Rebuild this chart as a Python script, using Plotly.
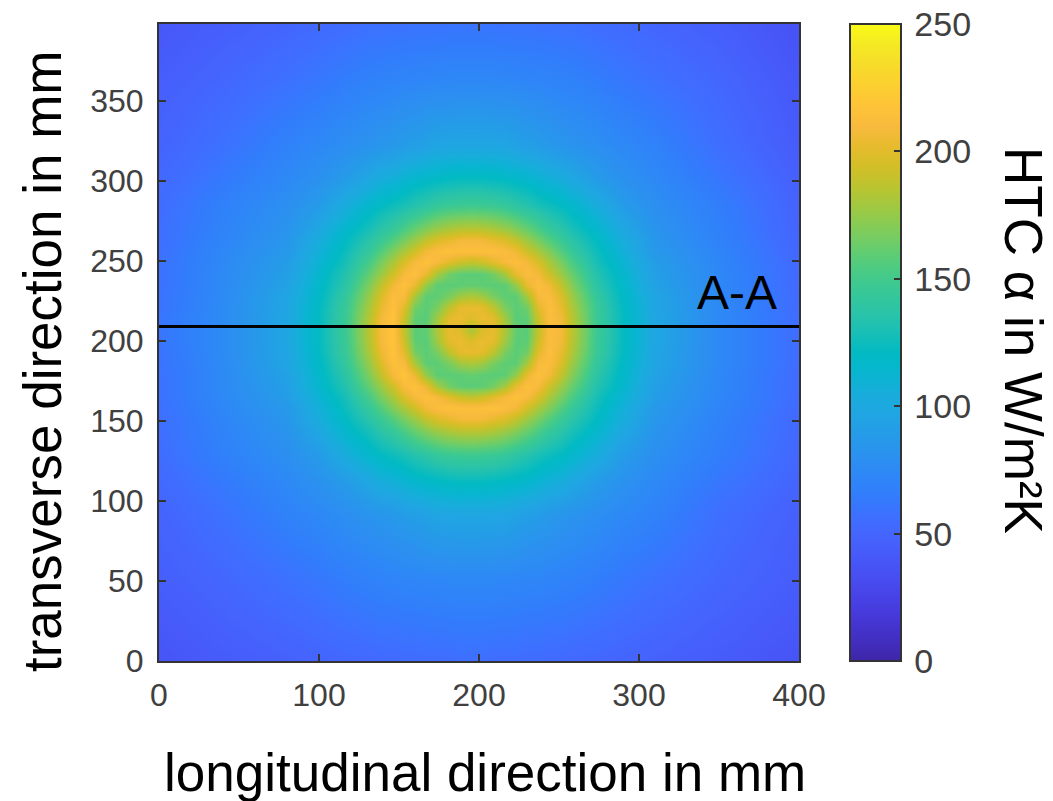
import plotly.graph_objects as go

x_mm = [0,40,80,100,117,132,139,146,153,160,167,174,181,188,195,202,209,216,223,230,237,244,251,258,273,290,310,350,400]
y_mm = [0,52,92,112,129,144,151,158,165,172,179,186,193,200,207,214,221,228,235,242,249,256,263,270,285,302,322,362,398]
htc = [
[38,43,47,49,51,52,53,53,54,54,55,55,55,56,56,56,55,55,55,54,54,53,53,52,51,49,47,43,37],
[45,51,58,62,66,69,70,71,72,72,73,73,74,74,74,74,74,73,73,72,72,71,70,69,66,62,58,51,44],
[49,58,69,74,79,83,85,87,90,92,94,97,97,98,98,98,97,97,94,92,90,87,85,83,79,74,69,56,46],
[52,63,74,81,89,99,104,107,111,115,117,119,121,122,122,122,121,119,117,115,111,107,104,99,89,81,74,61,49],
[55,68,79,89,104,116,121,125,129,134,138,143,146,147,148,147,146,143,138,134,129,125,121,116,104,89,79,66,51],
[56,70,83,99,116,129,137,144,153,162,170,177,182,185,186,185,182,177,170,162,153,144,137,129,116,99,83,68,52],
[56,71,85,104,121,137,146,156,167,177,188,197,202,207,208,207,202,197,188,177,167,156,146,137,121,104,85,69,52],
[57,73,87,107,125,144,156,169,181,193,207,213,216,215,215,215,216,213,207,193,181,169,156,144,125,107,87,71,53],
[58,74,90,111,129,153,167,181,197,210,216,210,200,192,188,192,200,210,216,210,197,181,167,153,129,111,90,72,54],
[58,75,92,115,134,162,177,193,212,216,203,180,165,159,158,159,165,180,203,215,210,193,177,162,134,115,92,73,54],
[58,75,94,117,138,170,188,209,218,203,175,159,158,159,161,159,158,159,175,203,216,207,188,170,138,117,94,73,54],
[59,75,97,119,143,177,198,215,210,180,159,159,167,178,182,178,167,159,159,180,210,213,197,177,143,119,97,74,55],
[59,76,97,121,146,183,204,218,200,165,158,167,187,201,203,201,187,167,158,165,200,214,202,182,146,121,97,74,55],
[60,76,98,122,147,186,209,218,192,159,158,178,201,204,198,204,201,178,158,159,192,213,207,185,147,122,98,74,55],
[60,76,98,122,148,187,210,218,188,158,160,182,203,198,180,198,203,182,160,158,188,213,208,186,148,122,98,74,55],
[60,76,98,122,147,186,208,217,192,159,158,178,201,204,198,204,201,178,158,159,192,213,207,185,147,122,98,74,55],
[59,76,97,121,146,182,202,216,200,165,158,167,187,201,203,201,187,167,158,165,200,214,202,182,146,121,97,74,54],
[59,75,97,119,143,177,197,213,210,180,159,159,167,178,182,178,167,159,159,180,210,212,197,177,143,119,97,74,54],
[58,75,94,117,138,170,188,207,216,203,175,159,158,159,161,159,158,159,175,203,214,206,188,170,138,117,94,73,53],
[58,75,92,115,134,162,177,193,210,215,203,180,165,159,158,159,165,180,203,213,208,192,177,162,134,115,92,73,53],
[58,74,90,111,129,153,167,181,197,210,216,210,200,192,188,192,200,210,214,208,196,181,167,153,129,111,90,72,52],
[57,73,87,107,125,144,156,169,181,193,207,213,216,215,215,215,215,212,205,192,181,169,156,144,125,107,87,71,51],
[56,71,85,104,121,137,146,156,167,177,188,197,202,207,208,207,202,197,188,177,167,156,146,137,121,104,85,69,50],
[56,70,83,99,116,129,137,144,153,162,170,177,182,185,186,185,182,177,170,162,153,144,137,129,116,99,83,68,49],
[55,68,79,89,104,116,121,125,129,134,138,143,146,147,148,147,146,143,138,134,129,125,121,116,104,89,79,66,48],
[52,63,74,81,89,99,104,107,111,115,117,119,121,122,122,122,121,119,117,115,111,107,104,99,89,81,74,61,46],
[49,58,69,74,79,83,85,87,90,92,94,97,97,98,98,98,97,97,94,92,90,87,85,83,79,74,69,56,43],
[45,51,58,62,66,69,70,71,72,72,73,73,74,74,74,74,74,73,73,72,72,71,70,69,66,62,58,51,40],
[40,45,50,53,55,57,57,58,58,59,59,59,60,60,60,60,60,59,59,59,58,58,57,57,55,53,50,45,36],
]
section_x = [0, 400]
section_y = [209, 209]
x_ticks = [0, 100, 200, 300, 400]
y_ticks = [0, 50, 100, 150, 200, 250, 300, 350]

parula = [
(0.2422,0.1504,0.6603),(0.2578,0.1818,0.7511),(0.2706,0.2147,0.8364),(0.2783,0.2559,0.8991),
(0.2813,0.3006,0.9414),(0.2795,0.3447,0.9717),(0.2699,0.3892,0.9906),(0.2440,0.4358,0.9988),
(0.1963,0.4847,0.9892),(0.1786,0.5289,0.9682),(0.1687,0.5703,0.9359),(0.1460,0.6091,0.9079),
(0.1248,0.6459,0.8883),(0.0952,0.6798,0.8598),(0.0297,0.7082,0.8163),(0.0067,0.7312,0.7660),
(0.0964,0.7500,0.7120),(0.1717,0.7670,0.6554),(0.2161,0.7843,0.5923),(0.2906,0.7973,0.5188),
(0.3909,0.8029,0.4354),(0.5044,0.7993,0.3480),(0.6174,0.7876,0.2612),(0.7242,0.7698,0.1910),
(0.8203,0.7498,0.1535),(0.9035,0.7330,0.1774),(0.9728,0.7298,0.2394),(0.9970,0.7659,0.2199),
(0.9892,0.8136,0.1885),(0.9676,0.8639,0.1643),(0.9597,0.9135,0.1423),(0.9769,0.9839,0.0805),
]
n = len(parula) - 1
colorscale = [[i / n, f"rgb({round(r*255)},{round(g*255)},{round(b*255)})"] for i, (r, g, b) in enumerate(parula)]

FONT = "Liberation Sans, Arial, sans-serif"
DARK = "#404040"
EDGE = "#333333"

def px_x(px):
    return (px - 159) / 640

def px_y(px):
    return (661 - px) / 637

fig = go.Figure()
fig.add_trace(go.Heatmap(
    x=x_mm, y=y_mm, z=htc, zmin=0, zmax=250, zsmooth="best", colorscale=colorscale,
    colorbar=dict(
        x=px_x(850), xanchor="left", xpad=0, y=0, yanchor="bottom", ypad=0, len=1,
        thickness=51, thicknessmode="pixels", outlinecolor=EDGE, outlinewidth=2,
        tickmode="linear", tick0=0, dtick=50,
        ticks="inside", ticklen=8, tickwidth=2,
        tickcolor=EDGE, tickfont=dict(family=FONT, size=34, color=DARK),
        tickprefix='<span style="font-size:18px">\u00a0</span>',
    ),
))
fig.add_trace(go.Scatter(x=section_x, y=section_y, mode="lines",
                         line=dict(color="black", width=3), showlegend=False))
fig.add_annotation(x=361, y=230, text="A-A", showarrow=False,
                   font=dict(family=FONT, size=48, color="black"))
for text, px, py, angle in [
    ("longitudinal direction in mm", 484.5, 772, 0),
    ("transverse direction in mm", 43, 362, -90),
    ("HTC α in W/m²K", 1024, 340, 90),
]:
    fig.add_annotation(xref="paper", yref="paper", x=px_x(px), y=px_y(py), text=text,
                       textangle=angle, showarrow=False, xanchor="center", yanchor="middle",
                       font=dict(family=FONT, size=53, color="black"))
axis = dict(showgrid=False, zeroline=False, showline=True, linecolor=EDGE, linewidth=2,
            mirror="ticks", ticks="inside", ticklen=7, tickwidth=2, tickcolor=EDGE,
            tickfont=dict(family=FONT, size=32, color=DARK))
fig.update_xaxes(axis, range=[0, 400], tickmode="array", tickvals=x_ticks, ticklabelstandoff=5)
fig.update_yaxes(axis, range=[0, 398], tickmode="array", tickvals=y_ticks, ticklabelstandoff=7)
fig.update_layout(width=1053, height=801, paper_bgcolor="white", plot_bgcolor="white",
                  margin=dict(l=159, r=254, t=24, b=140, autoexpand=False), showlegend=False)
fig.write_html("out.html", post_script="document.body.style.margin='0';",
               config={"displayModeBar": False})
